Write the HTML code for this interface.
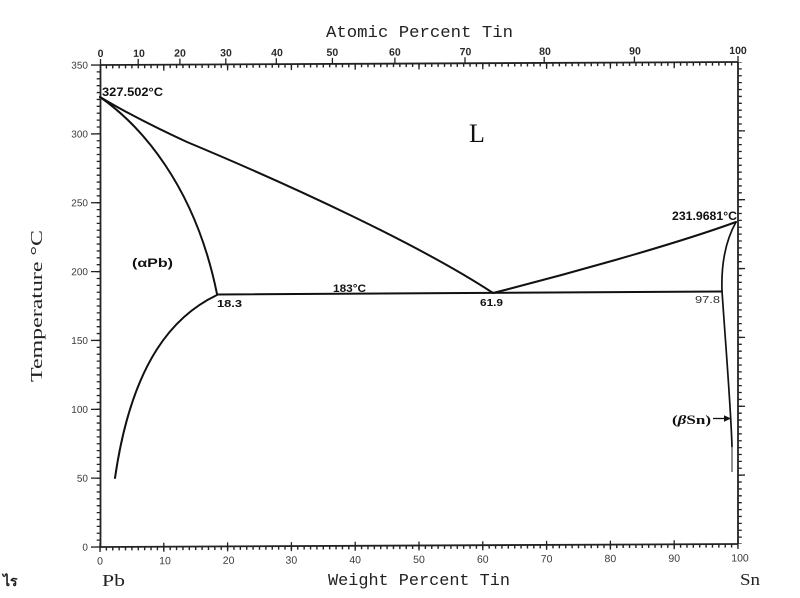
<!DOCTYPE html>
<html>
<head>
<meta charset="utf-8">
<style>
  html,body{margin:0;padding:0;background:#fff;}
  svg{display:block;}
  .tl{font-family:"Liberation Sans",sans-serif;font-size:10px;fill:#3a3a3a;}
  .ann{font-family:"Liberation Sans",sans-serif;font-weight:bold;fill:#111;}
  .mono{font-family:"Liberation Mono",monospace;fill:#222;}
</style>
</head>
<body>
<svg width="800" height="598" viewBox="0 0 800 598" xmlns="http://www.w3.org/2000/svg">
  <rect x="0" y="0" width="800" height="598" fill="#fff"/>

  <!-- Axes frame and ticks (slightly tilted like the scan) -->
  <g transform="matrix(1,-0.0047,0,1,0,0.47)" stroke="#222" fill="none">
    <line x1="100.5" y1="65" x2="100.5" y2="547" stroke-width="1.8"/>
    <line x1="100" y1="547" x2="738" y2="547" stroke-width="1.8"/>
    <line x1="100" y1="65" x2="738" y2="65" stroke-width="1.8"/>
    <line x1="738" y1="65" x2="738" y2="547" stroke-width="1.8"/>

    <!-- minor ticks -->
    <line x1="98.3" y1="65" x2="98.3" y2="547" stroke-width="3.2" stroke-dasharray="1.3 5.586" stroke-dashoffset="0.65"/>
    <line x1="740.2" y1="65" x2="740.2" y2="547" stroke-width="3.2" stroke-dasharray="1.3 5.586" stroke-dashoffset="0.65"/>
    <line x1="100" y1="549" x2="738" y2="549" stroke-width="3" stroke-dasharray="1.4 4.98" stroke-dashoffset="0.7"/>
    <line x1="100" y1="67" x2="738" y2="67" stroke-width="3" stroke-dasharray="1.4 4.98" stroke-dashoffset="0.7"/>

    <path d="M91,547H100 M91,478.1H100 M91,409.3H100 M91,340.4H100 M91,271.6H100 M91,202.7H100 M91,133.9H100 M91,65H100" stroke-width="1.3"/>
    <path d="M738,478.1H745 M738,409.3H745 M738,340.4H745 M738,271.6H745 M738,202.7H745 M738,133.9H745" stroke-width="1.3"/>
    <path d="M100,543V552 M163.8,543V552 M227.6,543V552 M291.4,543V552 M355.2,543V552 M419,543V552 M482.8,543V552 M546.6,543V552 M610.4,543V552 M674.2,543V552 M738,543V552" stroke-width="1.3"/>
    <path d="M163.8,65V71 M227.6,65V71 M291.4,65V71 M355.2,65V71 M419,65V71 M482.8,65V71 M546.6,65V71 M610.4,65V71 M674.2,65V71" stroke-width="1.3"/>
    <path d="M100.5,59V65 M138.2,59V65 M179.9,59V65 M225.8,59V65 M276.3,59V65 M332.4,59V65 M394.9,59V65 M465,59V65 M544.2,59V65 M634.4,59V65 M738,59V65" stroke-width="1.3"/>
  </g>

  <g transform="matrix(1,-0.0047,0,1,0,0.47)">
    <g class="tl" text-anchor="end">
      <text x="88" y="550.5">0</text>
      <text x="88" y="481.6">50</text>
      <text x="88" y="412.8">100</text>
      <text x="88" y="343.9">150</text>
      <text x="88" y="275.1">200</text>
      <text x="88" y="206.2">250</text>
      <text x="88" y="137.4">300</text>
      <text x="88" y="68.5">350</text>
    </g>
    <g class="tl" text-anchor="middle" style="font-size:10.5px">
      <text x="100" y="564.5">0</text>
      <text x="165" y="564.5">10</text>
      <text x="228.6" y="564.5">20</text>
      <text x="291.4" y="564.5">30</text>
      <text x="355.2" y="564.5">40</text>
      <text x="419" y="564.5">50</text>
      <text x="482.8" y="564.5">60</text>
      <text x="546.6" y="564.5">70</text>
      <text x="610.4" y="564.5">80</text>
      <text x="674.2" y="564.5">90</text>
      <text x="740" y="564.5">100</text>
    </g>
    <g class="tl" text-anchor="middle" style="font-size:10.5px;font-weight:bold;fill:#2a2a2a">
      <text x="100.5" y="57">0</text>
      <text x="139" y="57">10</text>
      <text x="180" y="57">20</text>
      <text x="226" y="57">30</text>
      <text x="277" y="57">40</text>
      <text x="332.4" y="57">50</text>
      <text x="394.9" y="57">60</text>
      <text x="465.5" y="57">70</text>
      <text x="545" y="57">80</text>
      <text x="635" y="57">90</text>
      <text x="738" y="57">100</text>
    </g>
  </g>

  <!-- Curves -->
  <g fill="none" stroke="#111" stroke-width="2" stroke-linejoin="round" stroke-linecap="round">
    <!-- Pb-side liquidus -->
    <path d="M100,97 Q135,118 187,142 C290,185 420,245 493,293"/>
    <!-- Pb-side solidus -->
    <path d="M100,97 C140,125 195,185 217,294"/>
    <!-- Pb solvus -->
    <path d="M217,295 C175,315 132,360 115,478"/>
    <!-- eutectic line -->
    <line x1="217" y1="294.5" x2="722" y2="291.5"/>
    <!-- Sn-side liquidus -->
    <path d="M493,293 C560,276 670,246 736,222"/>
    <!-- Sn-side solidus -->
    <path d="M736,222 C726,240 721,262 722,291" stroke-width="1.7"/>
    <!-- Sn solvus -->
    <path d="M722,291 C726,350 731,410 732,447" stroke-width="1.7"/>
  </g>
  <line x1="732" y1="447" x2="732" y2="472" stroke="#777" stroke-width="1.6"/>

  <line x1="713" y1="418.5" x2="726" y2="418.5" stroke="#111" stroke-width="1.3"/>
  <polygon points="724,415.3 731,418.5 724,421.7" fill="#111"/>

  <!-- Annotations -->
  <text class="ann" x="102" y="96" font-size="12" textLength="61" lengthAdjust="spacingAndGlyphs">327.502°C</text>
  <text x="477" y="142" text-anchor="middle" font-family="Liberation Serif, serif" font-size="26" fill="#111">L</text>
  <text class="ann" x="672" y="220" font-size="11.5" textLength="65" lengthAdjust="spacingAndGlyphs">231.9681°C</text>
  <text class="ann" x="132" y="267" font-size="12" textLength="41" lengthAdjust="spacingAndGlyphs">(αPb)</text>
  <text class="ann" x="217" y="307" font-size="10.5" textLength="25" lengthAdjust="spacingAndGlyphs">18.3</text>
  <text class="ann" x="333" y="292" font-size="11" textLength="33" lengthAdjust="spacingAndGlyphs">183°C</text>
  <text class="ann" x="480" y="306" font-size="10.5" textLength="23" lengthAdjust="spacingAndGlyphs">61.9</text>
  <text x="695" y="303" font-family="Liberation Sans, sans-serif" font-size="10.5" fill="#333" textLength="25" lengthAdjust="spacingAndGlyphs">97.8</text>
  <text x="672" y="424" font-family="Liberation Serif, serif" font-weight="bold" font-size="13" fill="#111" textLength="39" lengthAdjust="spacingAndGlyphs">(<tspan font-style="italic">β</tspan>Sn)</text>

  <!-- Axis titles -->
  <text class="mono" x="326" y="37" font-size="17" textLength="187" lengthAdjust="spacingAndGlyphs">Atomic Percent Tin</text>
  <text class="mono" x="328" y="585" font-size="17" textLength="182" lengthAdjust="spacingAndGlyphs">Weight Percent Tin</text>
  <text x="102" y="586" font-family="Liberation Serif, serif" font-size="17" fill="#222" textLength="23" lengthAdjust="spacingAndGlyphs">Pb</text>
  <text x="740" y="585" font-family="Liberation Serif, serif" font-size="17" fill="#222" textLength="20" lengthAdjust="spacingAndGlyphs">Sn</text>
  <text x="3" y="586" font-family="Liberation Serif, serif" font-weight="bold" font-size="14" fill="#222">ไร</text>
  <text transform="translate(42,306) rotate(-90)" text-anchor="middle" font-family="Liberation Serif, serif" font-size="17" fill="#222" textLength="152" lengthAdjust="spacingAndGlyphs">Temperature °C</text>
</svg>
</body>
</html>
